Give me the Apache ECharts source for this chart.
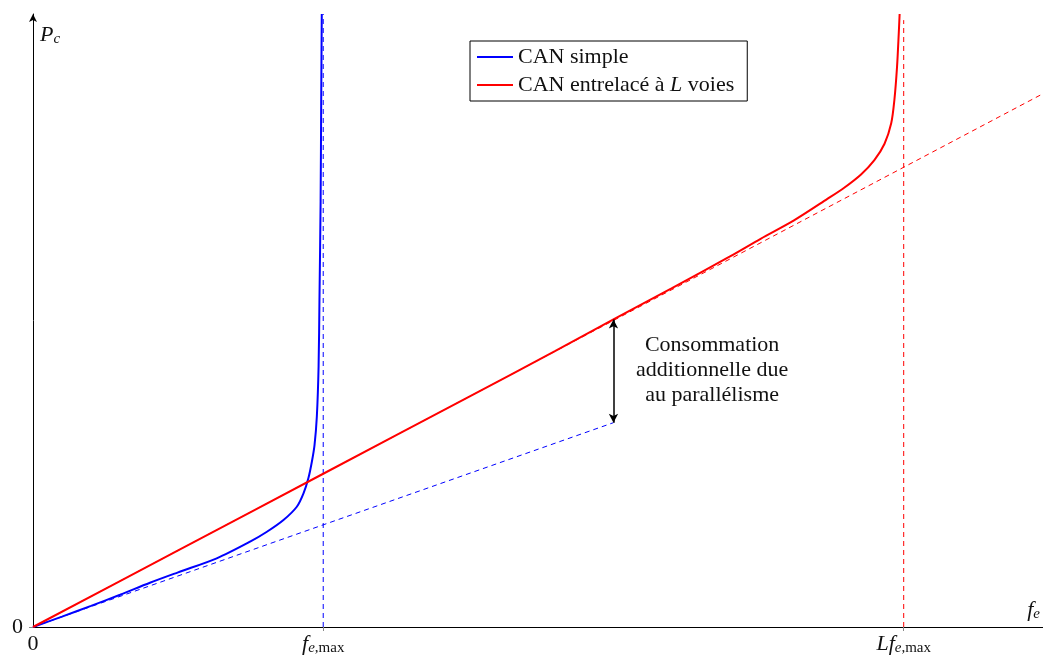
<!DOCTYPE html>
<html>
<head>
<meta charset="utf-8">
<script src="https://cdn.jsdelivr.net/npm/echarts@6/dist/echarts.min.js"></script>
<style>
  html, body { margin: 0; padding: 0; background: #fff; }
  #chart { width: 1043px; height: 657px; }
</style>
</head>
<body>
<div id="chart"></div>
<script>
// Sampling frequency in units of f_e,max  ->  consumed power P_c (arbitrary units)
const simpleADC = [
  [0, 0], [0.1, 0.102], [0.2, 0.207], [0.3, 0.316], [0.403, 0.433], [0.5, 0.535],
  [0.633, 0.672], [0.748, 0.835], [0.806, 0.932], [0.863, 1.047], [0.909, 1.177],
  [0.932, 1.308], [0.949, 1.458], [0.961, 1.62], [0.970, 1.78], [0.978, 2.06],
  [0.984, 2.55], [0.987, 3.2], [0.991, 4.17], [0.993, 5.15], [0.995, 6.0]
];
const interleavedADC = [
  [0, 0], [0.5, 0.75], [1.0, 1.5], [1.5, 2.25], [1.8, 2.702], [2.0, 3.01],
  [2.2, 3.315], [2.4, 3.625], [2.507, 3.80], [2.622, 3.98], [2.737, 4.19],
  [2.795, 4.30], [2.853, 4.43], [2.899, 4.57], [2.934, 4.73], [2.957, 4.93],
  [2.968, 5.16], [2.977, 5.48], [2.983, 5.81], [2.986, 6.0]
];
// Linear trends and asymptotes
const simpleTrend = [[0, 0], [2, 2]];
const interleavedTrend = [[0, 0], [3.48, 5.22]];
const simpleAsymptote = [[1, 0], [1, 6]];
const interleavedAsymptote = [[3, 0], [3, 5.94]];
// Extra consumption bracket at f = 2 f_e,max
const extraPower = [[2, 2], [2, 3.01]];

const seriesNames = ['CAN simple', 'CAN entrelacé à L voies'];
const xTickValues = [0, 1, 3];
const xTickLabels = ['{r|0}', '{i|f}{si|e}{sr|,max}', '{i|Lf}{si|e}{sr|,max}'];
const yTickValues = [0];
const noteLines = ['Consommation', 'additionnelle due', 'au parallélisme'];

const serif = 'Liberation Serif';
const ink = '#111';
const rich = {
  r:  { fontFamily: serif, fontSize: 22, color: ink, verticalAlign: 'top', lineHeight: 22 },
  i:  { fontFamily: serif, fontSize: 22, color: ink, fontStyle: 'italic', verticalAlign: 'top', lineHeight: 22 },
  si: { fontFamily: serif, fontSize: 15, color: ink, fontStyle: 'italic', verticalAlign: 'top', lineHeight: 14, padding: [8, 0, 0, 0] },
  sr: { fontFamily: serif, fontSize: 15, color: ink, verticalAlign: 'top', lineHeight: 14, padding: [8, 0, 0, 0] },
  lt: { fontFamily: serif, fontSize: 22, color: ink },
  li: { fontFamily: serif, fontSize: 22, color: ink, fontStyle: 'italic' }
};

function dashed(data, color) {
  return {
    type: 'line', data: data, symbol: 'none', silent: true, z: 2,
    lineStyle: { color: color, width: 1, type: [5, 4] }
  };
}

const chart = echarts.init(document.getElementById('chart'));
chart.setOption({
  animation: false,
  backgroundColor: '#fff',
  grid: { left: 33, right: 0, top: 14, bottom: 30, containLabel: false, outerBoundsMode: 'none' },
  xAxis: {
    type: 'value', min: 0, max: 3.48,
    splitLine: { show: false },
    axisLine: { lineStyle: { color: '#000', width: 1 } },
    axisTick: { show: true, customValues: [1, 3], length: 4, lineStyle: { color: '#888' } },
    axisLabel: {
      customValues: xTickValues, margin: 6, rich: rich,
      formatter: function (v) { return xTickLabels[xTickValues.indexOf(v)]; }
    },
    name: '{i|f}{si|e}', nameLocation: 'end', nameGap: -3,
    nameTextStyle: { rich: rich, align: 'right', verticalAlign: 'bottom', padding: [0, 0, 6, 0] }
  },
  yAxis: {
    type: 'value', min: 0, max: 6,
    splitLine: { show: false },
    axisLine: { lineStyle: { color: '#000', width: 1 }, symbol: ['none', 'arrow'], symbolSize: [6, 8] },
    axisTick: { show: true, customValues: yTickValues, length: 4, lineStyle: { color: '#888' } },
    axisLabel: {
      customValues: yTickValues, margin: 10,
      fontFamily: serif, fontSize: 22, color: ink
    },
    name: '{i|P}{si|c}', nameLocation: 'end', nameGap: -32,
    nameTextStyle: { rich: rich, align: 'left', verticalAlign: 'bottom', padding: [0, 0, 0, 7] }
  },
  legend: {
    left: 470, top: 41, orient: 'vertical',
    data: seriesNames,
    icon: 'rect', itemWidth: 36, itemHeight: 2, itemGap: 6,
    borderColor: '#000', borderWidth: 1, borderRadius: 0,
    padding: [5, 13, 5, 7],
    textStyle: { fontFamily: serif, fontSize: 22, color: ink, rich: rich },
    formatter: function (name) {
      const parts = name.split(' L ');
      if (parts.length === 2) return '{lt|' + parts[0] + ' }{li|L}{lt| ' + parts[1] + '}';
      return '{lt|' + name + '}';
    }
  },
  series: [
    dashed(simpleTrend, '#0000ff'),
    dashed(simpleAsymptote, '#0000ff'),
    dashed(interleavedTrend, '#ff0000'),
    dashed(interleavedAsymptote, '#ff0000'),
    {
      name: seriesNames[0], type: 'line', data: simpleADC, symbol: 'none', z: 3,
      smooth: 0.3,
      lineStyle: { color: '#0000ff', width: 2 }, itemStyle: { color: '#0000ff' }
    },
    {
      name: seriesNames[1], type: 'line', data: interleavedADC, symbol: 'none', z: 3,
      smooth: 0.3,
      lineStyle: { color: '#ff0000', width: 2 }, itemStyle: { color: '#ff0000' }
    },
    {
      type: 'line', data: [], silent: true, z: 4,
      markLine: {
        silent: true, animation: false,
        symbol: ['arrow', 'arrow'], symbolSize: [7, 9],
        lineStyle: { color: '#000', width: 1.5, type: 'solid' },
        label: { show: false },
        data: [[{ coord: extraPower[0] }, { coord: extraPower[1] }]]
      }
    },
    {
      type: 'scatter', data: [[2.34, 2.51]], symbolSize: 0, silent: true, z: 4,
      itemStyle: { opacity: 1 },
      label: {
        show: true, position: 'inside', formatter: noteLines.join('\n'),
        fontFamily: serif, fontSize: 22, lineHeight: 25, color: ink, opacity: 1, align: 'center'
      }
    }
  ]
});
</script>
</body>
</html>
